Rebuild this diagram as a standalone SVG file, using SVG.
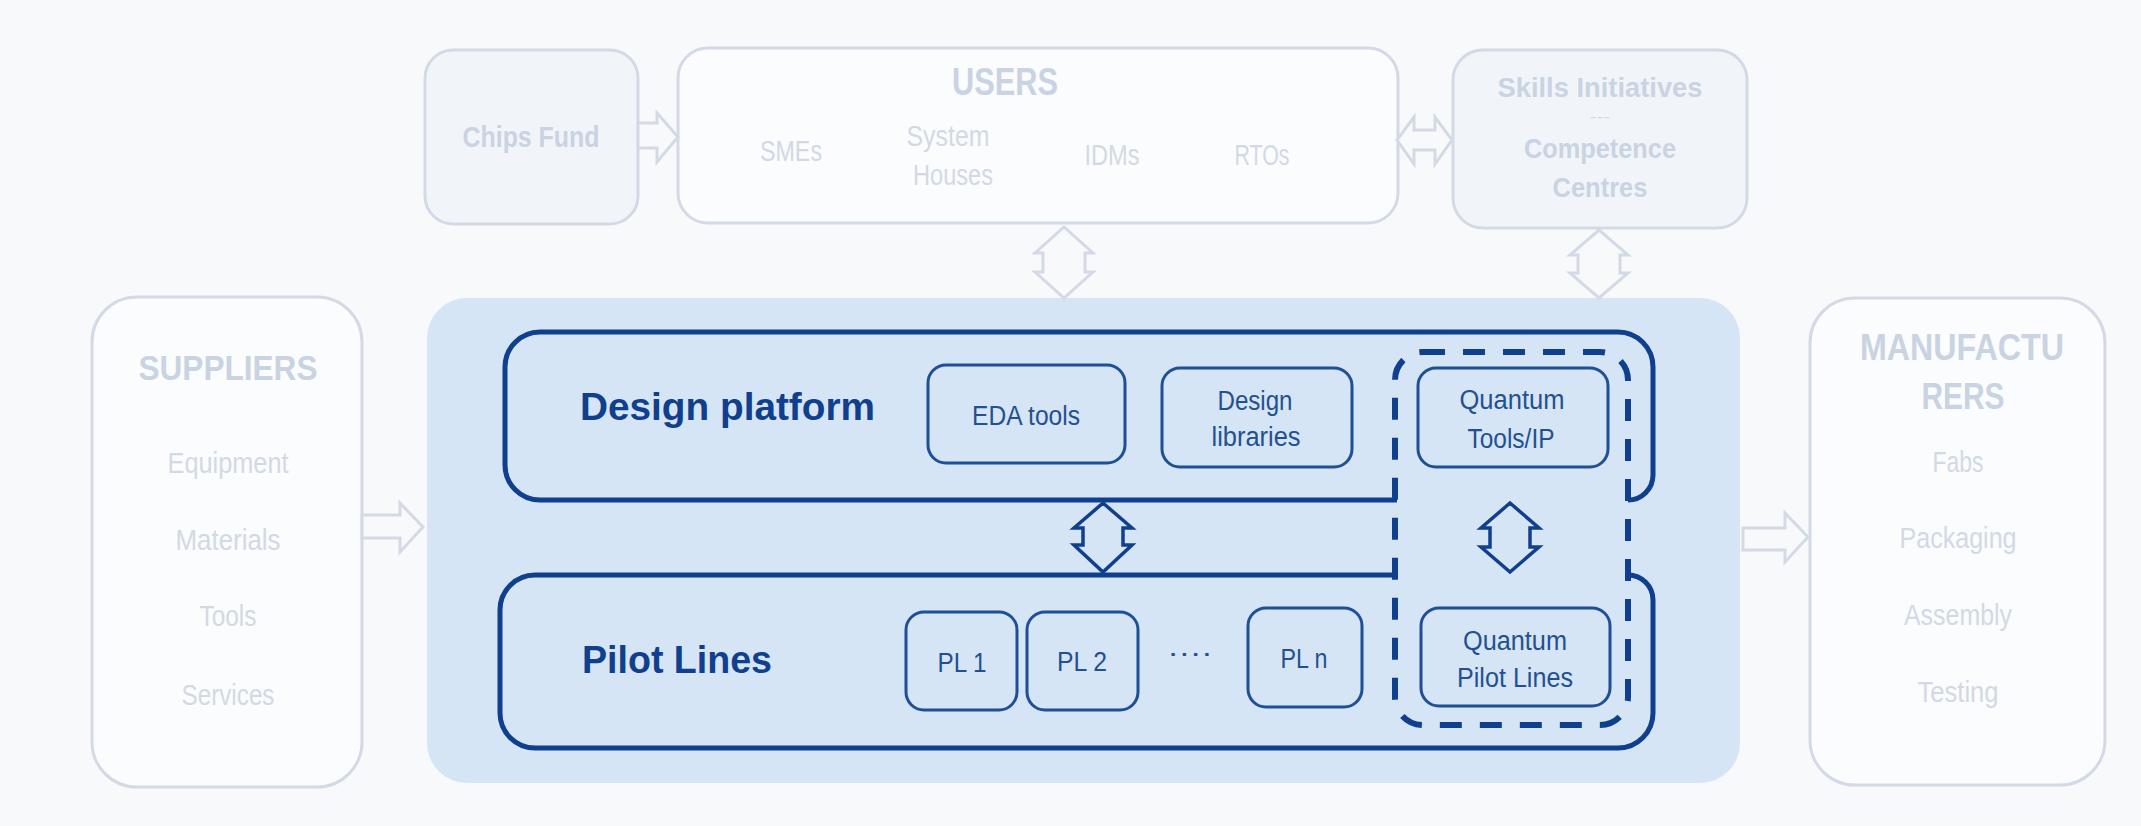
<svg xmlns="http://www.w3.org/2000/svg" width="2141" height="826" viewBox="0 0 2141 826">
<style>
.bg{fill:#f8f9fb}
.faded{stroke:#d3dae6;stroke-width:3}
.fw{fill:#fbfcfd}
.fb{fill:#f1f5fa}
.farrow{fill:#f8f9fb;stroke:#d3dae6;stroke-width:3;stroke-linejoin:miter}
.darrow{fill:#d5e5f5;stroke:#123f8c;stroke-width:3.5;stroke-linejoin:miter}
.ftitle{font-family:"Liberation Sans",Arial,sans-serif;font-weight:bold;fill:#c9d3e2;text-anchor:middle}
.fitem{font-family:"Liberation Sans",Arial,sans-serif;fill:#d2d9e4;text-anchor:middle;font-size:29px}
.dtitle{font-family:"Liberation Sans",Arial,sans-serif;font-weight:bold;fill:#0f3f8d;font-size:39px}
.inner{fill:none;stroke:#1f4f96;stroke-width:3}
.itext{font-family:"Liberation Sans",Arial,sans-serif;fill:#23518f;font-size:27px;text-anchor:middle}
.solid{fill:none;stroke:#0f3f8d;stroke-width:5;stroke-linecap:butt}
</style>
<rect class="bg" x="0" y="0" width="2141" height="826"/>

<g id="chips-fund">
<rect class="faded fb" x="425" y="50" width="213" height="174" rx="28"/>
<text class="ftitle" x="531" y="147" font-size="29" textLength="137" lengthAdjust="spacingAndGlyphs">Chips Fund</text>
</g>

<g id="users">
<rect class="faded fw" x="678" y="48" width="720" height="175" rx="30"/>
<text class="ftitle" x="1005" y="95" font-size="38" textLength="106" lengthAdjust="spacingAndGlyphs">USERS</text>
<text class="fitem" x="791" y="161" textLength="62" lengthAdjust="spacingAndGlyphs">SMEs</text>
<text class="fitem" x="948" y="146" textLength="83" lengthAdjust="spacingAndGlyphs">System</text>
<text class="fitem" x="953" y="185" textLength="80" lengthAdjust="spacingAndGlyphs">Houses</text>
<text class="fitem" x="1112" y="165" textLength="55" lengthAdjust="spacingAndGlyphs">IDMs</text>
<text class="fitem" x="1262" y="165" textLength="55" lengthAdjust="spacingAndGlyphs">RTOs</text>
</g>

<g id="skills">
<rect class="faded fb" x="1453" y="50" width="294" height="178" rx="30"/>
<text class="ftitle" x="1600" y="97" font-size="27" textLength="205" lengthAdjust="spacingAndGlyphs">Skills Initiatives</text>
<text class="fitem" x="1600" y="122" font-size="14" style="font-size:14px" textLength="20" lengthAdjust="spacingAndGlyphs">---</text>
<text class="ftitle" x="1600" y="158" font-size="27" textLength="152" lengthAdjust="spacingAndGlyphs">Competence</text>
<text class="ftitle" x="1600" y="197" font-size="27" textLength="95" lengthAdjust="spacingAndGlyphs">Centres</text>
</g>

<g id="suppliers">
<rect class="faded fw" x="92" y="297" width="270" height="490" rx="45"/>
<text class="ftitle" x="228" y="380" font-size="35" textLength="179" lengthAdjust="spacingAndGlyphs">SUPPLIERS</text>
<text class="fitem" x="228" y="473" textLength="121" lengthAdjust="spacingAndGlyphs">Equipment</text>
<text class="fitem" x="228" y="550" textLength="105" lengthAdjust="spacingAndGlyphs">Materials</text>
<text class="fitem" x="228" y="626" textLength="57" lengthAdjust="spacingAndGlyphs">Tools</text>
<text class="fitem" x="228" y="705" textLength="93" lengthAdjust="spacingAndGlyphs">Services</text>
</g>

<g id="manufacturers">
<rect class="faded fw" x="1810" y="298" width="295" height="487" rx="45"/>
<text class="ftitle" x="1962" y="360" font-size="36" textLength="204" lengthAdjust="spacingAndGlyphs">MANUFACTU</text>
<text class="ftitle" x="1963" y="409" font-size="36" textLength="83" lengthAdjust="spacingAndGlyphs">RERS</text>
<text class="fitem" x="1958" y="472" textLength="51" lengthAdjust="spacingAndGlyphs">Fabs</text>
<text class="fitem" x="1958" y="548" textLength="117" lengthAdjust="spacingAndGlyphs">Packaging</text>
<text class="fitem" x="1958" y="625" textLength="108" lengthAdjust="spacingAndGlyphs">Assembly</text>
<text class="fitem" x="1958" y="702" textLength="81" lengthAdjust="spacingAndGlyphs">Testing</text>
</g>

<g id="platform">
<rect x="427" y="298" width="1313" height="485" rx="40" fill="#d5e5f5"/>
</g>

<g id="design-platform">
<path class="solid" d="M1397,500 H540 A35,35 0 0 1 505,465 V367 A35,35 0 0 1 540,332 H1618 A35,35 0 0 1 1653,367 V475 A25,25 0 0 1 1628,500"/>
<text class="dtitle" x="580" y="420" textLength="295" lengthAdjust="spacingAndGlyphs">Design platform</text>
</g>

<g id="pilot-lines">
<path class="solid" d="M1397,575 H535 A35,35 0 0 0 500,610 V713 A35,35 0 0 0 535,748 H1618 A35,35 0 0 0 1653,713 V600 A25,25 0 0 0 1628,575"/>
<text class="dtitle" x="582" y="673" textLength="190" lengthAdjust="spacingAndGlyphs">Pilot Lines</text>
</g>

<g id="quantum">
<rect x="1395" y="352" width="233" height="373" rx="28" fill="none" stroke="#0f3f8d" stroke-width="6" stroke-dasharray="22 18"/>
</g>

<g id="eda-tools">
<rect class="inner" x="928" y="365" width="197" height="98" rx="18"/>
<text class="itext" x="1026" y="425" textLength="108" lengthAdjust="spacingAndGlyphs">EDA tools</text>
</g>
<g id="design-libraries">
<rect class="inner" x="1162" y="368" width="190" height="99" rx="18"/>
<text class="itext" x="1255" y="410" textLength="75" lengthAdjust="spacingAndGlyphs">Design</text>
<text class="itext" x="1256" y="446" textLength="89" lengthAdjust="spacingAndGlyphs">libraries</text>
</g>
<g id="quantum-tools">
<rect class="inner" x="1418" y="368" width="190" height="99" rx="18"/>
<text class="itext" x="1512" y="409" textLength="105" lengthAdjust="spacingAndGlyphs">Quantum</text>
<text class="itext" x="1511" y="448" textLength="87" lengthAdjust="spacingAndGlyphs">Tools/IP</text>
</g>
<g id="pl1">
<rect class="inner" x="906" y="612" width="111" height="98" rx="18"/>
<text class="itext" x="962" y="672" textLength="49" lengthAdjust="spacingAndGlyphs">PL 1</text>
</g>
<g id="pl2">
<rect class="inner" x="1027" y="612" width="111" height="98" rx="18"/>
<text class="itext" x="1082" y="671" textLength="50" lengthAdjust="spacingAndGlyphs">PL 2</text>
</g>
<g id="pl-dots">
<text class="itext" x="1190" y="662" textLength="45" lengthAdjust="spacingAndGlyphs">····</text>
</g>
<g id="pln">
<rect class="inner" x="1248" y="608" width="114" height="99" rx="18"/>
<text class="itext" x="1304" y="668" textLength="47" lengthAdjust="spacingAndGlyphs">PL n</text>
</g>
<g id="quantum-pilot">
<rect class="inner" x="1421" y="608" width="189" height="98" rx="18"/>
<text class="itext" x="1515" y="650" textLength="104" lengthAdjust="spacingAndGlyphs">Quantum</text>
<text class="itext" x="1515" y="687" textLength="116" lengthAdjust="spacingAndGlyphs">Pilot Lines</text>
</g>

<g id="connectors">
<path class="farrow" d="M638,123 H657 V113 L678,137 L657,162 V148 H638 Z"/>
<path class="farrow" d="M1397,140 L1414,117 V130 H1435 V117 L1452,140 L1435,164 V150 H1414 V164 Z"/>
<path class="farrow" d="M1064,227 L1093,253 H1085 V272 H1093 L1064,298 L1035,272 H1043 V253 H1035 Z"/>
<path class="farrow" d="M1599,230 L1628,255 H1620 V273 H1628 L1599,298 L1570,273 H1578 V255 H1570 Z"/>
<path class="farrow" d="M362,515 H400 V503 L423,527 L400,552 V538 H362 Z"/>
<path class="farrow" d="M1743,528 H1785 V513 L1808,537 L1785,562 V550 H1743 Z"/>
<path class="darrow" d="M1103,503 L1132,528 H1123 V545 H1132 L1103,572 L1074,545 H1083 V528 H1074 Z"/>
<path class="darrow" d="M1510,503 L1539,528 H1530 V547 H1539 L1510,572 L1481,547 H1490 V528 H1481 Z"/>
</g>
</svg>
